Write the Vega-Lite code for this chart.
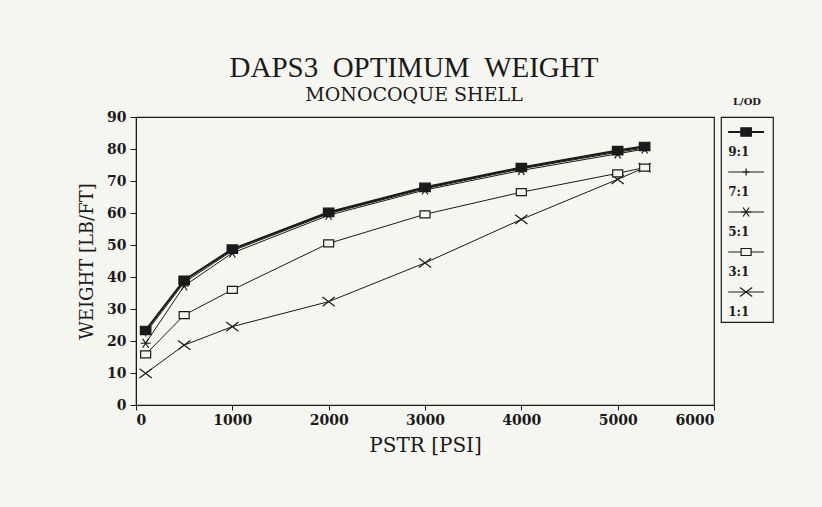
{
  "$schema": "https://vega.github.io/schema/vega-lite/v6.json",
  "autosize": {"type": "none"},
  "padding": {"left": 136, "top": 117, "right": 686, "bottom": 390},
  "background": "#f6f6f0",
  "bounds": "flush",
  "spacing": 7,
  "datasets": {
    "weights": [
      {"series": "1:1", "pstr": 100, "weight": 9.9},
      {"series": "1:1", "pstr": 500, "weight": 18.7},
      {"series": "1:1", "pstr": 1000, "weight": 24.5},
      {"series": "1:1", "pstr": 2000, "weight": 32.3},
      {"series": "1:1", "pstr": 3000, "weight": 44.4},
      {"series": "1:1", "pstr": 4000, "weight": 58.0},
      {"series": "1:1", "pstr": 5000, "weight": 70.5},
      {"series": "1:1", "pstr": 5280, "weight": 74.2},
      {"series": "3:1", "pstr": 100, "weight": 15.8},
      {"series": "3:1", "pstr": 500, "weight": 28.1},
      {"series": "3:1", "pstr": 1000, "weight": 36.0},
      {"series": "3:1", "pstr": 2000, "weight": 50.5},
      {"series": "3:1", "pstr": 3000, "weight": 59.6},
      {"series": "3:1", "pstr": 4000, "weight": 66.5},
      {"series": "3:1", "pstr": 5000, "weight": 72.4},
      {"series": "3:1", "pstr": 5280, "weight": 74.2},
      {"series": "5:1", "pstr": 100, "weight": 19.3},
      {"series": "5:1", "pstr": 500, "weight": 37.2},
      {"series": "5:1", "pstr": 1000, "weight": 47.5},
      {"series": "5:1", "pstr": 2000, "weight": 59.3},
      {"series": "5:1", "pstr": 3000, "weight": 67.2},
      {"series": "5:1", "pstr": 4000, "weight": 73.3},
      {"series": "5:1", "pstr": 5000, "weight": 78.5},
      {"series": "5:1", "pstr": 5280, "weight": 80.0},
      {"series": "7:1", "pstr": 100, "weight": 22.5},
      {"series": "7:1", "pstr": 500, "weight": 38.3},
      {"series": "7:1", "pstr": 1000, "weight": 48.2},
      {"series": "7:1", "pstr": 2000, "weight": 59.8},
      {"series": "7:1", "pstr": 3000, "weight": 67.6},
      {"series": "7:1", "pstr": 4000, "weight": 73.8},
      {"series": "7:1", "pstr": 5000, "weight": 79.0},
      {"series": "7:1", "pstr": 5280, "weight": 80.3},
      {"series": "9:1", "pstr": 100, "weight": 23.3},
      {"series": "9:1", "pstr": 500, "weight": 39.0},
      {"series": "9:1", "pstr": 1000, "weight": 48.7},
      {"series": "9:1", "pstr": 2000, "weight": 60.2},
      {"series": "9:1", "pstr": 3000, "weight": 68.0},
      {"series": "9:1", "pstr": 4000, "weight": 74.2},
      {"series": "9:1", "pstr": 5000, "weight": 79.5},
      {"series": "9:1", "pstr": 5280, "weight": 80.8}
    ],
    "legend": [
      {"series": "9:1"},
      {"series": "7:1"},
      {"series": "5:1"},
      {"series": "3:1"},
      {"series": "1:1"}
    ]
  },
  "hconcat": [
    {
      "width": 578,
      "height": 288,
      "title": {
        "text": "DAPS3\u00a0\u00a0OPTIMUM\u00a0\u00a0WEIGHT",
        "subtitle": "MONOCOQUE SHELL",
        "anchor": "middle",
        "dx": -11,
        "offset": 5,
        "font": "Liberation Serif",
        "fontSize": 29,
        "fontWeight": "normal",
        "color": "#1a1a1a",
        "subtitleFont": "DejaVu Serif",
        "subtitleFontSize": 19,
        "subtitleColor": "#1a1a1a",
        "subtitlePadding": 3
      },
      "data": {"name": "weights"},
      "encoding": {
        "x": {
          "field": "pstr", "type": "quantitative",
          "scale": {"domain": [0, 6000], "nice": false},
          "axis": {"title": "PSTR [PSI]", "values": [0, 1000, 2000, 3000, 4000, 5000, 6000], "format": "d"}
        },
        "y": {
          "field": "weight", "type": "quantitative",
          "scale": {"domain": [0, 90], "nice": false},
          "axis": {"title": "WEIGHT [LB/FT]", "values": [0, 10, 20, 30, 40, 50, 60, 70, 80, 90]}
        }
      },
      "layer": [
        {
          "mark": {"type": "line", "color": "#1a1a1a"},
          "encoding": {
            "detail": {"field": "series"},
            "strokeWidth": {
              "field": "series", "type": "nominal",
              "scale": {"type": "ordinal", "domain": ["9:1", "7:1", "5:1", "3:1", "1:1"], "range": [2.2, 1, 1, 1, 1]},
              "legend": null
            }
          }
        },
        {
          "mark": {"type": "point", "filled": true, "stroke": "#1a1a1a", "strokeWidth": 1.2, "opacity": 1},
          "encoding": {
            "shape": {
              "field": "series", "type": "nominal",
              "scale": {"domain": ["9:1", "7:1", "5:1", "3:1", "1:1"], "range": ["M-1,-0.8L1,-0.8L1,0.8L-1,0.8Z", "M0,-1L0,1M-1,0L1,0", "M-1,0L1,0M-0.6,-0.9L0.6,0.9M-0.6,0.9L0.6,-0.9", "M-1,-0.7L1,-0.7L1,0.7L-1,0.7Z", "M-1,-0.75L1,0.75M-1,0.75L1,-0.75"]},
              "legend": null
            },
            "fill": {
              "field": "series", "type": "nominal",
              "scale": {"domain": ["9:1", "7:1", "5:1", "3:1", "1:1"], "range": ["#1a1a1a", "#1a1a1a", "#1a1a1a", "#f6f6f0", "#1a1a1a"]},
              "legend": null
            },
            "size": {
              "field": "series", "type": "nominal",
              "scale": {"type": "ordinal", "domain": ["9:1", "7:1", "5:1", "3:1", "1:1"], "range": [110, 50, 100, 100, 150]},
              "legend": null
            }
          }
        }
      ]
    },
    {
      "width": 52,
      "height": 205,
      "title": {"text": "L/OD", "font": "DejaVu Serif", "fontSize": 10, "fontWeight": "bold", "color": "#1a1a1a", "offset": 10, "anchor": "middle"},
      "data": {"name": "legend"},
      "encoding": {
        "y": {
          "field": "series", "type": "nominal",
          "scale": {"type": "point", "padding": 0, "domain": ["9:1", "7:1", "5:1", "3:1", "1:1"], "range": [15, 175]},
          "axis": null
        }
      },
      "layer": [
        {
          "mark": {"type": "rule", "color": "#1a1a1a"},
          "encoding": {
            "x": {"datum": 0, "type": "quantitative", "scale": {"domain": [-0.2, 1.25], "nice": false, "zero": false}, "axis": null},
            "x2": {"datum": 1},
            "strokeWidth": {
              "field": "series", "type": "nominal",
              "scale": {"type": "ordinal", "domain": ["9:1", "7:1", "5:1", "3:1", "1:1"], "range": [2.2, 1, 1, 1, 1]},
              "legend": null
            }
          }
        },
        {
          "mark": {"type": "point", "filled": true, "stroke": "#1a1a1a", "strokeWidth": 1.2, "opacity": 1},
          "encoding": {
            "x": {"datum": 0.5, "type": "quantitative"},
            "shape": {
              "field": "series", "type": "nominal",
              "scale": {"domain": ["9:1", "7:1", "5:1", "3:1", "1:1"], "range": ["M-1,-0.8L1,-0.8L1,0.8L-1,0.8Z", "M0,-1L0,1M-1,0L1,0", "M-1,0L1,0M-0.6,-0.9L0.6,0.9M-0.6,0.9L0.6,-0.9", "M-1,-0.7L1,-0.7L1,0.7L-1,0.7Z", "M-1,-0.75L1,0.75M-1,0.75L1,-0.75"]},
              "legend": null
            },
            "fill": {
              "field": "series", "type": "nominal",
              "scale": {"domain": ["9:1", "7:1", "5:1", "3:1", "1:1"], "range": ["#1a1a1a", "#1a1a1a", "#1a1a1a", "#f6f6f0", "#1a1a1a"]},
              "legend": null
            },
            "size": {
              "field": "series", "type": "nominal",
              "scale": {"type": "ordinal", "domain": ["9:1", "7:1", "5:1", "3:1", "1:1"], "range": [110, 50, 100, 100, 150]},
              "legend": null
            }
          }
        },
        {
          "mark": {"type": "text", "align": "left", "baseline": "middle", "dy": 20, "font": "DejaVu Serif", "fontSize": 12, "fontWeight": "bold", "color": "#1a1a1a"},
          "encoding": {
            "x": {"datum": 0, "type": "quantitative"},
            "text": {"field": "series"}
          }
        }
      ]
    }
  ],
  "config": {
    "view": {"stroke": "#1a1a1a", "strokeWidth": 1.2},
    "axis": {
      "grid": false,
      "domainColor": "#1a1a1a",
      "tickColor": "#1a1a1a",
      "labelFont": "DejaVu Serif",
      "labelFontSize": 14,
      "labelFontWeight": "bold",
      "labelColor": "#1a1a1a",
      "titleFont": "DejaVu Serif",
      "titleFontSize": 19,
      "titleFontWeight": "normal",
      "titleColor": "#1a1a1a"
    },
    "axisX": {"tickSize": 5, "labelPadding": 3, "titlePadding": 8, "titleFontSize": 20},
    "axisY": {"tickSize": 6, "labelPadding": 4, "titlePadding": 10, "titleFontSize": 18}
  }
}
